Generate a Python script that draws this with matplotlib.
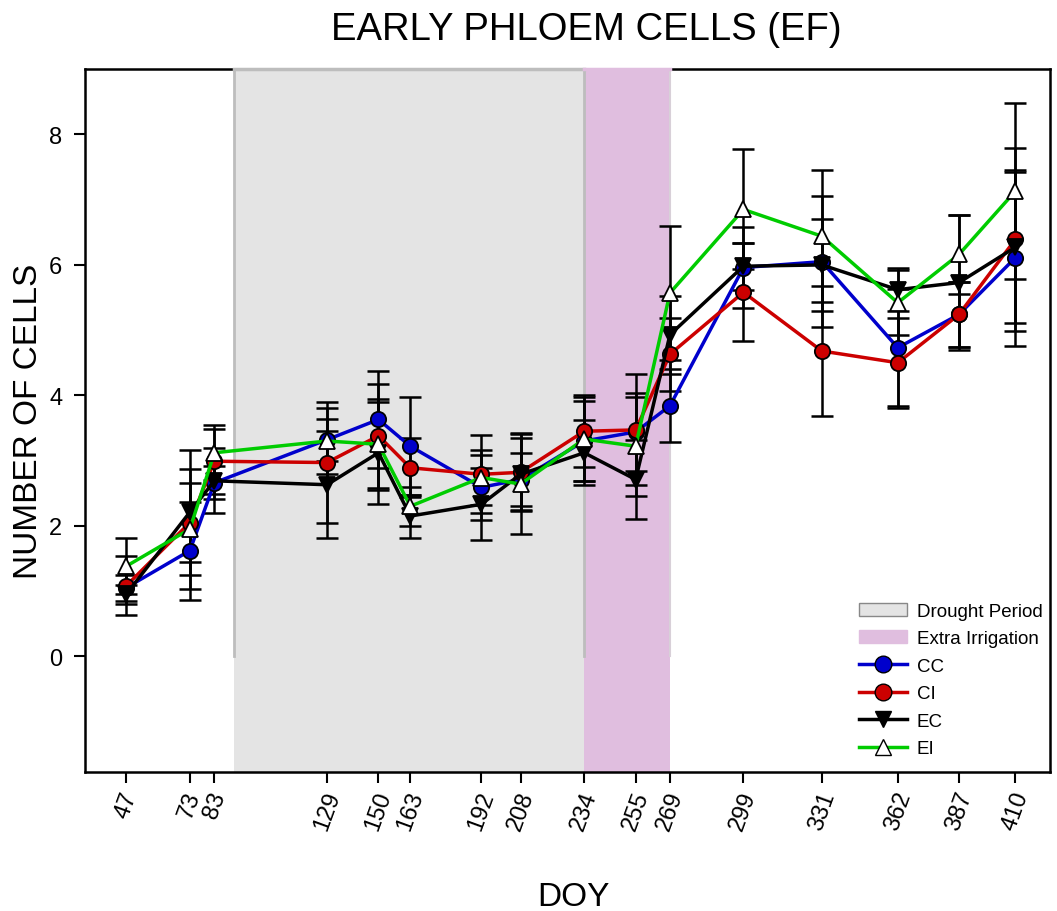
###
# Early phloem cells chart.
###

# pip install matplotlib numpy
import matplotlib
matplotlib.use('Agg')
import matplotlib.pyplot as plt
from matplotlib.patches import Patch
from matplotlib.lines import Line2D
import numpy as np

# ================== data. ================================================.
doy = [47, 73, 83, 129, 150, 163, 192, 208, 234, 255, 269, 299, 331, 362, 387, 410]

cc_mean = [1.05, 1.62, 2.66, 3.32, 3.63, 3.22, 2.59, 2.71, 3.30, 3.44, 3.84, 5.96, 6.05, 4.73, 5.24, 6.11]
cc_err  = [0.20, 0.75, 0.25, 0.32, 0.74, 0.75, 0.50, 0.40, 0.62, 0.60, 0.56, 0.62, 1.00, 0.90, 0.50, 1.35]

ci_mean = [1.08, 2.05, 2.99, 2.97, 3.38, 2.89, 2.79, 2.82, 3.45, 3.47, 4.63, 5.58, 4.68, 4.50, 5.24, 6.39]
ci_err  = [0.45, 0.60, 0.50, 0.93, 0.80, 0.45, 0.60, 0.60, 0.55, 0.85, 0.56, 0.75, 1.00, 0.69, 0.50, 1.40]

ec_mean = [0.95, 2.21, 2.69, 2.63, 3.12, 2.15, 2.33, 2.79, 3.12, 2.71, 4.93, 5.98, 6.00, 5.62, 5.73, 6.27]
ec_err  = [0.15, 0.96, 0.50, 0.82, 0.78, 0.33, 0.55, 0.55, 0.50, 0.61, 0.60, 0.36, 0.70, 0.33, 1.03, 1.16]

ei_mean = [1.38, 1.95, 3.12, 3.30, 3.25, 2.30, 2.74, 2.64, 3.33, 3.22, 5.57, 6.85, 6.44, 5.42, 6.16, 7.13]
ei_err  = [0.43, 0.92, 0.42, 0.50, 0.70, 0.30, 0.42, 0.77, 0.64, 0.76, 1.03, 0.92, 1.01, 0.50, 0.61, 1.35]

drought_period = (91, 234)
irrigation_period = (234, 269)


# Main function.
def main() -> int:
# {
    plt.rcParams['font.family'] = ['Liberation Sans', 'DejaVu Sans']

    fig = plt.figure(figsize = (10.57, 9.12), dpi = 100)
    ax  = fig.add_axes([0.080, 0.152, 0.913, 0.771])

    ax.set_xlim(30, 424)
    ax.set_ylim(-1.78, 9.0)

    # shaded periods.
    ax.axvspan(*drought_period, color = '#E4E4E4', lw = 0, zorder = 0)
    ax.axvspan(*irrigation_period, color = '#E0BEDF', lw = 0, zorder = 0)
    ax.plot([drought_period[0]] * 2, [0, 9.0], color = '#BDBDBD', lw = 2, zorder = 0.5)
    ax.plot([drought_period[1]] * 2, [0, 9.0], color = '#BDBDBD', lw = 2, zorder = 0.5)
    ax.plot([irrigation_period[1]] * 2, [0, 9.0], color = '#D8D0D8', lw = 1.5, zorder = 0.5)

    series = [
        (cc_mean, cc_err, '#0000CC', 'o', '#0000CC', 'CC'),
        (ci_mean, ci_err, '#CC0000', 'o', '#CC0000', 'CI'),
        (ec_mean, ec_err, 'black',   'v', 'black',   'EC'),
        (ei_mean, ei_err, '#00CC00', '^', 'white',   'EI'),
    ]

    # error bars then lines.
    for mean, err, col, mk, fc, name in series:
        ax.errorbar(doy, mean, yerr = err, fmt = 'none', ecolor = 'black',
                    elinewidth = 1.8, capsize = 8, capthick = 1.8, zorder = 3)
    for mean, err, col, mk, fc, name in series:
        ax.plot(doy, mean, color = col, lw = 2.5, marker = mk, markersize = 11,
                markerfacecolor = fc, markeredgecolor = 'black', markeredgewidth = 1.3,
                zorder = 4)

    # top spine hidden under the shaded bars.
    ax.spines['top'].set_zorder(0.2)
    for sp in ax.spines.values():
        sp.set_linewidth(1.8)
    ax.plot(drought_period, [9.0, 9.0], color = '#BDBDBD', lw = 2.5, zorder = 0.6, clip_on = False)
    ax.plot(irrigation_period, [9.0, 9.0], color = '#E0BEDF', lw = 2.5, zorder = 0.6, clip_on = False)

    ax.set_xticks(doy)
    ax.set_xticklabels([str(d) for d in doy], rotation = 70, ha = 'center', fontsize = 17)
    ax.set_yticks([0, 2, 4, 6, 8])
    ax.tick_params(axis = 'y', labelsize = 17, length = 8, width = 1.5, pad = 8)
    ax.tick_params(axis = 'x', length = 8, width = 1.5)

    ax.set_xlabel('DOY', fontsize = 24)
    ax.xaxis.set_label_coords(0.507, -0.155)
    ax.set_ylabel('NUMBER OF CELLS', fontsize = 24, labelpad = 4)
    ax.set_title('EARLY PHLOEM CELLS (EF)', fontsize = 27.5, pad = 22, x = 0.52)

    handles = [
        Patch(facecolor = '#E4E4E4', edgecolor = '#888888', label = 'Drought Period'),
        Patch(facecolor = '#E0BEDF', edgecolor = '#E0BEDF', label = 'Extra Irrigation'),
    ]
    for mean, err, col, mk, fc, name in series:
        handles.append(Line2D([], [], color = col, lw = 2.5, marker = mk, markersize = 12,
                              markerfacecolor = fc, markeredgecolor = 'black', label = name))
    ax.legend(handles = handles, loc = 'lower right', bbox_to_anchor = (1.012, -0.005),
              frameon = False, fontsize = 13.5, handlelength = 2.6, labelspacing = 0.55,
              handletextpad = 0.5, borderpad = 0.5)

    fig.savefig('out.png', dpi = 100)
    return 0
# }


# Program entry.
if '__main__' == __name__:
# {
    main()
# }
